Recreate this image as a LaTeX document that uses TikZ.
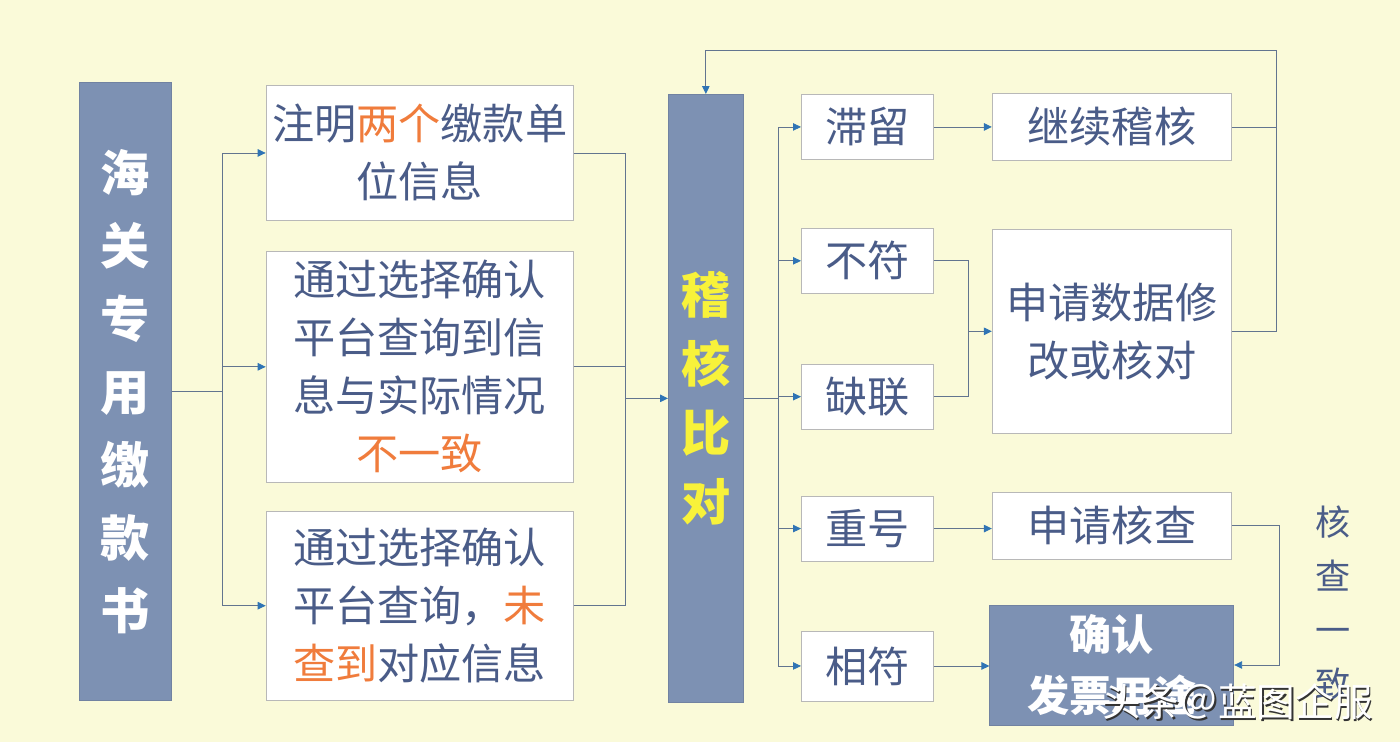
\documentclass[tikz,border=0pt]{standalone}
\usepackage{fontspec}
\setmainfont{Noto Sans CJK SC}
\usetikzlibrary{positioning, arrows.meta, calc}
\definecolor{bgyel}{HTML}{FAFAD9}
\definecolor{slate}{HTML}{7D91B3}
\definecolor{ink}{HTML}{4A5C88}
\definecolor{hot}{HTML}{F07C3C}
\definecolor{wire}{HTML}{62748F}
\definecolor{tipblue}{HTML}{2F74B5}
\definecolor{hilite}{HTML}{F8F23A}

\begin{document}
\begin{tikzpicture}[
  x=1mm, y=1mm,
  card/.style ={draw=black!28, fill=white, line width=0.5pt, align=center, text=ink, inner sep=0pt, font=\fontsize{24}{33}\selectfont},
  tag/.style  ={card, minimum width=26.4mm, minimum height=13mm},
  wide/.style ={card, minimum width=47.8mm, minimum height=13.4mm},
  bar/.style  ={fill=slate, draw=slate!90!black, align=center, inner sep=0pt, font=\bfseries\fontsize{28}{41.5}\selectfont},
  link/.style ={draw=wire, line width=0.5pt},
  flow/.style ={link, -{Triangle[length=1.6mm, width=1.5mm, color=tipblue]}},
]

% ---------- canvas ----------
\useasboundingbox (0,0) rectangle (280,-148.4);
\fill[bgyel] (0,0) rectangle (280,-148.4);

% ---------- source ----------
\node[bar, text=white, minimum width=18.4mm, minimum height=123.6mm, anchor=north west] (hg) at (15.8,-16.4) {海\\关\\专\\用\\缴\\款\\书};

% ---------- cases ----------
\node[card, minimum width=61.4mm, minimum height=27mm, right=18.8mm of hg.north east, anchor=north west, yshift=-0.6mm] (b1)
  {注明\textcolor{hot}{两个}缴款单\\位信息};
\node[card, minimum width=61.4mm, minimum height=46.2mm, below=6mm of b1] (b2)
  {通过选择确认\\平台查询到信\\息与实际情况\\\textcolor{hot}{不一致}};
\node[card, minimum width=61.4mm, minimum height=37.8mm, below=5.6mm of b2] (b3)
  {通过选择确认\\平台查询，\textcolor{hot}{未}\\\textcolor{hot}{查到}对应信息};

% ---------- check ----------
\node[bar, text=hilite, minimum width=15mm, minimum height=121.6mm, anchor=north west, font=\bfseries\fontsize{28}{39.4}\selectfont] (jh) at (133.6,-18.8) {稽\\核\\比\\对};

% ---------- results ----------
\node[tag, anchor=north west] (zl) at (160.2,-18.8) {滞留};
\node[tag, below=13.6mm of zl] (bf) {不符};
\node[tag, below=14mm of bf]   (ql) {缺联};
\node[tag, below=13.2mm of ql] (ch) {重号};
\node[tag, minimum height=14mm, below=13.8mm of ch] (xf) {相符};

% ---------- actions ----------
\node[wide, right=11.6mm of zl] (jx) {继续稽核};
\node[wide, minimum height=40.8mm, below=13.6mm of jx] (sq) {申请数据修\\改或核对};
\node[wide, below=11.6mm of sq] (hc) {申请核查};
\node[bar, text=white, minimum width=48.8mm, minimum height=24mm, below=9mm of hc, font=\bfseries\fontsize{24}{35}\selectfont] (qr) {确认\\发票用途};

\node[text=ink, align=center, font=\fontsize{20}{30.6}\selectfont] (hy) at (266.6,-120.6) {核\\查\\一\\致};

% ---------- watermark ----------
\node[text=black!80, font=\fontsize{22}{22}\selectfont] (wmshade) at (247.8,-140.7) {头条＠蓝图企服};
\node[text=white, font=\fontsize{22}{22}\selectfont] (wm) at (247.5,-140.4) {头条＠蓝图企服};

% ---------- flows ----------
\draw[link] (hg.east) -- ++(10.2,0) coordinate (s1);
\draw[flow] (s1) |- (b1.west);
\draw[flow] (s1) |- (b2.west);
\draw[flow] (s1) |- (b3.west);

\coordinate (m1) at ($(jh.west)+(-8.6,0)$);
\draw[link] (b1.east) -| (m1);
\draw[link] (b2.east) -| (m1);
\draw[link] (b3.east) -| (m1);
\draw[flow] (m1) -- (jh.west);

\draw[link] (jh.east) -- ++(7,0) coordinate (s2);
\draw[flow] (s2) |- (zl.west);
\draw[flow] (s2) |- (bf.west);
\draw[flow] (s2) |- (ql.west);
\draw[flow] (s2) |- (ch.west);
\draw[flow] (s2) |- (xf.west);

\draw[flow] (zl.east) -- (zl.east -| jx.west);
\coordinate (m2) at ($(sq.west)+(-4.6,0)$);
\draw[link] (bf.east) -| (m2);
\draw[link] (ql.east) -| (m2);
\draw[flow] (m2) -- (sq.west);
\draw[flow] (ch.east) -- (ch.east -| hc.west);
\draw[flow] (xf.east) -- (xf.east -| qr.west);

% ---------- loop back / confirm ----------
\coordinate (r1) at ($(sq.east)+(9,0)$);
\coordinate (loop) at (0,-10);
\draw[link] (jx.east) -| (r1);
\draw[flow] (sq.east) -- (r1) -- (r1 |- loop) -| (jh.north);
\draw[flow] (hc.east) -- ++(9.6,0) |- (qr.east);

\end{tikzpicture}
\end{document}
